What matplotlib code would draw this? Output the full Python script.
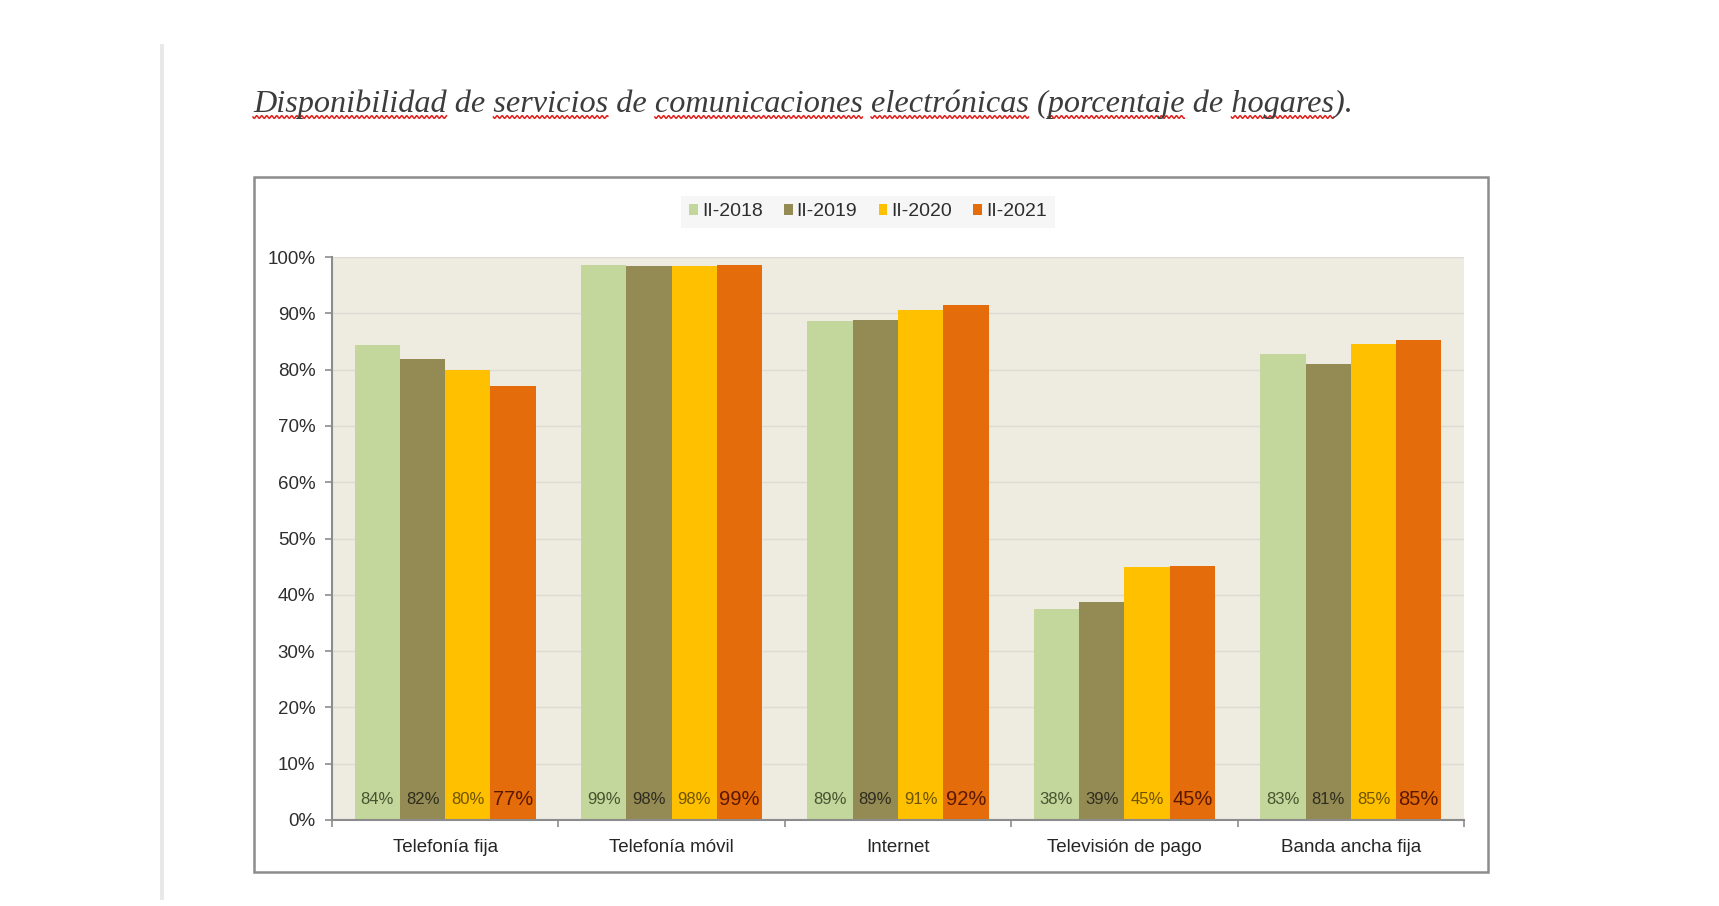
import numpy as np
import matplotlib
matplotlib.use('Agg')
import matplotlib.pyplot as plt
from matplotlib.patches import Patch, Rectangle
from matplotlib.font_manager import FontProperties

# data (percent of households)
categories = ['Telefonía fija', 'Telefonía móvil', 'Internet', 'Televisión de pago', 'Banda ancha fija']
series = ['II-2018', 'II-2019', 'II-2020', 'II-2021']
v2018 = [84.4, 98.6, 88.6, 37.5, 82.8]
v2019 = [81.9, 98.4, 88.8, 38.7, 81.0]
v2020 = [79.9, 98.4, 90.5, 45.0, 84.6]
v2021 = [77.0, 98.6, 91.5, 45.2, 85.2]
lab2018 = ['84%', '99%', '89%', '38%', '83%']
lab2019 = ['82%', '98%', '89%', '39%', '81%']
lab2020 = ['80%', '98%', '91%', '45%', '85%']
lab2021 = ['77%', '99%', '92%', '45%', '85%']
yticks = [0, 10, 20, 30, 40, 50, 60, 70, 80, 90, 100]

title = 'Disponibilidad de servicios de comunicaciones electrónicas (porcentaje de hogares).'
squiggly = ['Disponibilidad', 'servicios', 'comunicaciones', 'electrónicas', 'porcentaje', 'hogares']

colors = ['#C3D69B', '#948A54', '#FFC000', '#E46C0A']
label_colors = ['#46552f', '#2e2c1e', '#6e5400', '#5a1800']

W, H = 1719, 906
plt.rcParams['font.family'] = ['Liberation Sans', 'DejaVu Sans']
fig = plt.figure(figsize=(W / 100, H / 100), dpi=100)
fig.patch.set_facecolor('white')

# overlay in pixel coordinates for the page decoration
page = fig.add_axes([0, 0, 1, 1])
page.set_xlim(0, W)
page.set_ylim(H, 0)
page.axis('off')
page.set_zorder(0)

# grey bar on the left of the page
page.add_patch(Rectangle((160, 44), 4, 856, facecolor='#e8e8e8', edgecolor='none'))
# frame round the chart
page.add_patch(Rectangle((254, 177), 1234, 695, facecolor='white', edgecolor='#8c8c8c', linewidth=1.8))

# title, scaled to the width it takes in the screenshot
title_x, title_y = 253, 112
tfont = FontProperties(family='Liberation Serif', style='italic', size=26)
t = page.text(title_x, title_y, title, fontproperties=tfont, color='#3c3c3c', va='baseline', ha='left')
fig.canvas.draw()
renderer = fig.canvas.get_renderer()
w = t.get_window_extent(renderer).width
tfont.set_size(26 * 1097 / w)
t.set_fontproperties(tfont)
fig.canvas.draw()

# red spell-check squiggles under some words
for word in squiggly:
    i = title.index(word)
    x0 = renderer.get_text_width_height_descent(title[:i], tfont, ismath=False)[0] if i > 0 else 0
    x1 = renderer.get_text_width_height_descent(title[:i + len(word)], tfont, ismath=False)[0]
    xs = np.arange(title_x + x0, title_x + x1, 0.5)
    ys = title_y + 5 + 1.3 * np.sin((xs - xs[0]) * 2 * np.pi / 5)
    page.plot(xs, ys, color='#e0201c', linewidth=1.1)

# chart
ax = fig.add_axes([332 / W, 1 - 820 / H, (1464 - 332) / W, (820 - 257) / H])
ax.set_zorder(1)
ax.set_facecolor('#EEECE1')

x = np.arange(len(categories))
bw = 0.2
values = [v2018, v2019, v2020, v2021]
labels = [lab2018, lab2019, lab2020, lab2021]
for k in range(4):
    pos = x - 0.3 + k * bw
    ax.bar(pos, values[k], width=bw, color=colors[k], edgecolor='none', zorder=2)
    for p, lab in zip(pos, labels[k]):
        if k == 3:
            ax.text(p, 3.6, lab, ha='center', va='center', fontsize=14.5, color=label_colors[k], zorder=3)
        else:
            ax.text(p, 3.6, lab, ha='center', va='center', fontsize=12, color=label_colors[k], zorder=3)

ax.set_xlim(-0.5, len(categories) - 0.5)
ax.set_ylim(0, 100)
ax.set_yticks(yticks)
ax.set_yticklabels([str(v) + '%' for v in yticks], fontsize=13.5, color='#2e2e2e')
ax.yaxis.grid(True, color='#dedcd2', linewidth=1.0, zorder=0)
ax.set_axisbelow(True)

ax.set_xticks(x)
ax.set_xticklabels(categories, fontsize=13.5, color='#262626')
ax.set_xticks(np.arange(-0.5, len(categories)), minor=True)
ax.tick_params(axis='x', which='major', length=0, pad=13.5)
ax.tick_params(axis='x', which='minor', length=5, color='#8c8c8c', width=1.2)
ax.tick_params(axis='y', length=5, color='#8c8c8c', width=1.2, pad=7)

for s in ['top', 'right']:
    ax.spines[s].set_visible(False)
for s in ['left', 'bottom']:
    ax.spines[s].set_color('#8c8c8c')
    ax.spines[s].set_linewidth(1.5)

handles = [Patch(facecolor=c, edgecolor='none') for c in colors]
leg = fig.legend(handles, series, loc='center', bbox_to_anchor=(868 / W, 1 - 212 / H), ncol=4,
                 fontsize=14, frameon=True, handlelength=0.45, handleheight=0.45,
                 handletextpad=0.2, columnspacing=1.1, borderpad=0.4, fancybox=False)
leg.get_frame().set_facecolor('#f4f4f4')
leg.get_frame().set_edgecolor('none')
for txt in leg.get_texts():
    txt.set_color('#2e2e2e')

fig.savefig('out.png', dpi=100)
